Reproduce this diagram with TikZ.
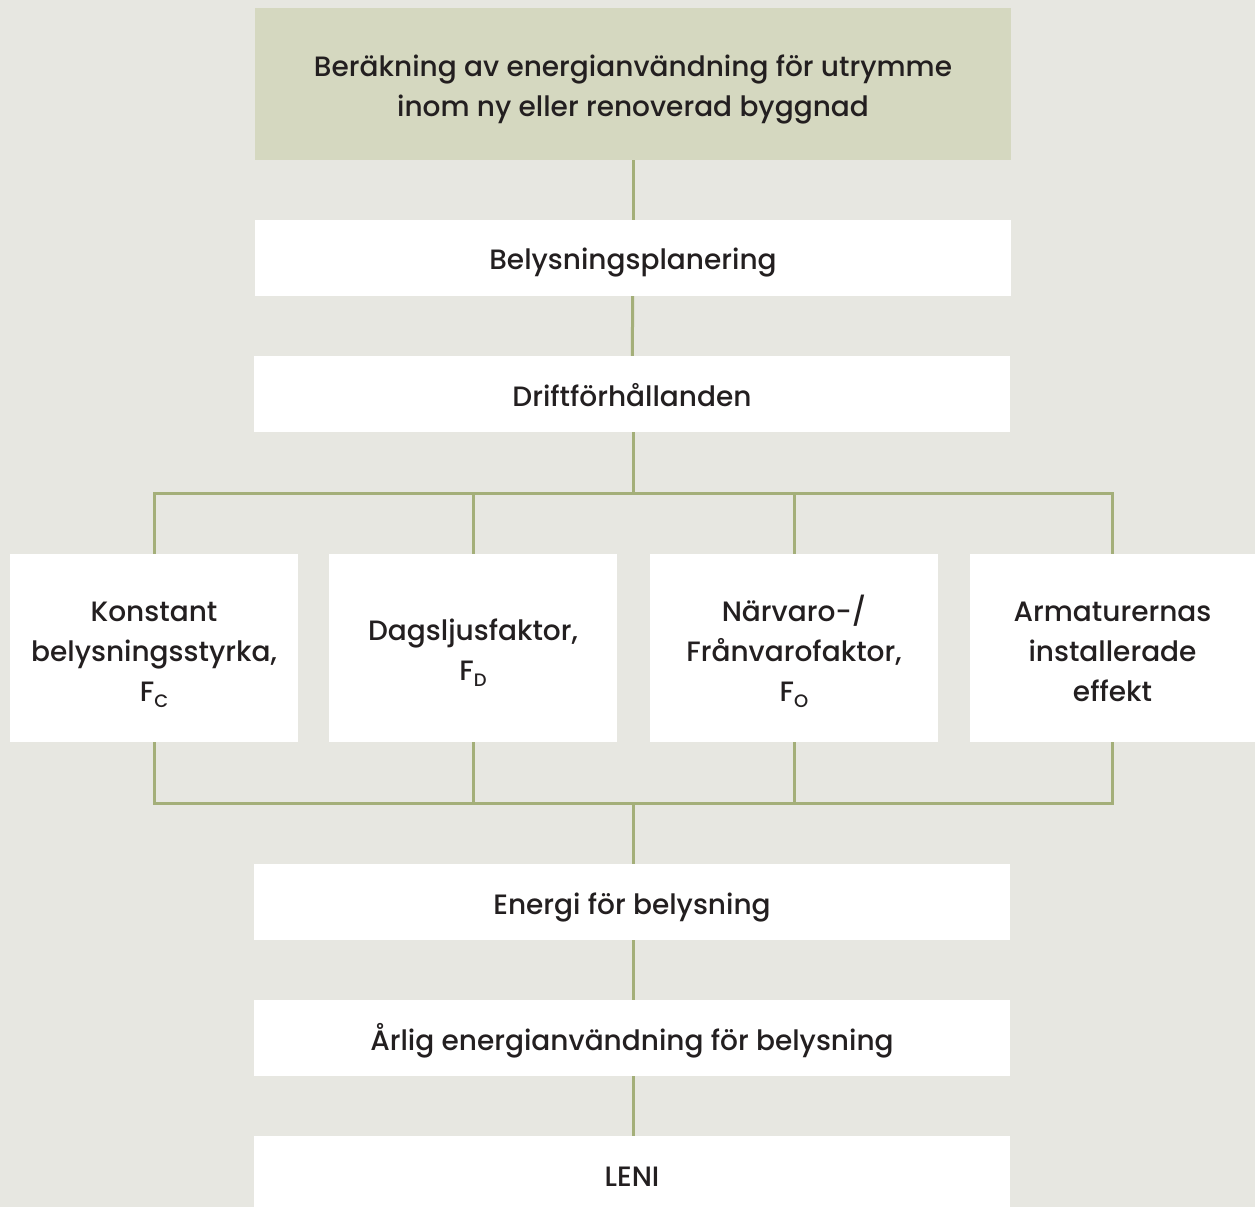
\documentclass[tikz,border=0pt]{standalone}
\usepackage{fontspec}
\setmainfont{Poppins Medium}
\definecolor{bg}{HTML}{E7E7E1}
\definecolor{topfill}{HTML}{D5D8C0}
\definecolor{linec}{HTML}{A4AF79}
\definecolor{txt}{HTML}{231F20}
\newcommand{\fsub}[1]{F\raisebox{-0.4ex}{\fontsize{18}{18}\selectfont #1}}
\tikzset{
  box/.style={fill=white, minimum width=756pt, minimum height=76pt, inner sep=0pt},
  smallbox/.style={box, minimum width=288pt, minimum height=188pt},
  lbl/.style={inner sep=0pt, align=center, text=txt, font=\fontsize{28}{40}\selectfont},
  conn/.style={draw=linec, line width=3pt}
}
\begin{document}
\begin{tikzpicture}[x=1pt,y=-1pt]
\useasboundingbox (0,0) rectangle (1255,1207);
\clip (0,0) rectangle (1255,1207);
\fill[bg] (0,0) rectangle (1255,1207);
\node[box, fill=topfill, minimum height=152pt] (top) at (633,84) {};
\node[lbl] (topT) at ([yshift=-5pt]top.center) {Beräkning av energianvändning för utrymme\\inom ny eller renoverad byggnad};
\node[box] (plan) at (633,258) {};
\node[lbl] (planT) at ([yshift=-5pt]plan.center) {Belysningsplanering};
\node[box] (drift) at (632,394) {};
\node[lbl] (driftT) at ([yshift=-1pt]drift.center) {Driftförhållanden};
\node[smallbox] (k1) at (154,648) {};
\node[lbl] (k1T) at ([yshift=-7pt]k1.center) {Konstant\\belysningsstyrka,\\\fsub{C}};
\node[smallbox] (k2) at (473,648) {};
\node[lbl] (k2T) at ([yshift=-5pt]k2.center) {Dagsljusfaktor,\\\fsub{D}};
\node[smallbox] (k3) at (794,648) {};
\node[lbl] (k3T) at ([yshift=-3pt]k3.center) {Närvaro-/\\Frånvarofaktor,\\\fsub{O}};
\node[smallbox, minimum width=285pt] (k4) at (1112.5,648) {};
\node[lbl] (k4T) at ([yshift=-4pt]k4.center) {Armaturernas\\installerade\\effekt};
\node[box] (energi) at (632,902) {};
\node[lbl] (energiT) at ([yshift=-5pt]energi.center) {Energi för belysning};
\node[box] (arlig) at (632,1038) {};
\node[lbl] (arligT) at ([yshift=-3pt]arlig.center) {Årlig energianvändning för belysning};
\node[box, minimum height=80pt] (leni) at (632,1176) {};
\node[lbl] (leniT) at ([yshift=-1pt]leni.center) {LENI};
\coordinate (busT) at (633,493);
\coordinate (busB) at (633,803);
\draw[conn] (top) -- (plan);
\draw[conn] (plan) -- (drift);
\draw[conn] (drift.south -| busT) -- (busT);
\draw[conn] (k1.north) |- (busT) -| (k4.north);
\draw[conn] (k2.north) -- (k2.north |- busT);
\draw[conn] (k3.north) -- (k3.north |- busT);
\draw[conn] (k1.south) |- (busB) -| (k4.south);
\draw[conn] (k2.south) -- (k2.south |- busB);
\draw[conn] (k3.south) -- (k3.south |- busB);
\draw[conn] (busB) -- (energi.north -| busB);
\draw[conn] (energi.south -| busB) -- (arlig.north -| busB);
\draw[conn] (arlig.south -| busB) -- (leni.north -| busB);
\end{tikzpicture}
\end{document}
